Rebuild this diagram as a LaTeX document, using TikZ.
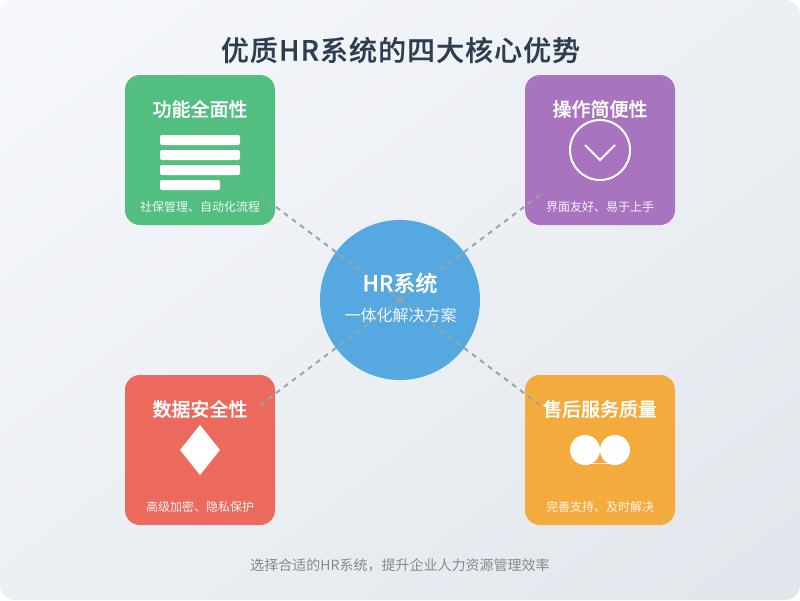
\documentclass[tikz,border=0pt]{standalone}
\usepackage{fontspec}
\setmainfont[BoldFont={Noto Sans CJK SC Medium},BoldFeatures={FakeBold=0.4}]{Noto Sans CJK SC}
\usetikzlibrary{positioning,calc}
\definecolor{inkdark}{HTML}{2C3E50}
\definecolor{footgray}{HTML}{7F8C8D}
\definecolor{linkgray}{HTML}{95A5A6}
\definecolor{cardgreen}{HTML}{52BE80}
\definecolor{cardpurple}{HTML}{A974BF}
\definecolor{cardred}{HTML}{EB6A5D}
\definecolor{cardorange}{HTML}{F3AB3D}
\definecolor{hubblue}{HTML}{55A8E0}
\definecolor{bgstart}{HTML}{F6F8FB}
\definecolor{bgend}{HTML}{E2E6EC}
\pgfdeclarehorizontalshading{bgshade}{1400pt}{color(0pt)=(bgstart); color(960pt)=(bgend)}
\tikzset{
  cardbox/.style={rectangle, rounded corners=15pt, minimum size=150pt, inner sep=0pt},
  cardtitle/.style={text=white, font=\fontsize{19}{19}\selectfont\bfseries, inner sep=0pt},
  cardnote/.style={text=white, opacity=0.9, font=\fontsize{12}{12}\selectfont, inner sep=0pt},
  bar/.style={fill=white, rounded corners=2pt},
  link/.style={draw=linkgray, line width=2pt, dash pattern=on 5pt off 5pt}
}
\begin{document}
\begin{tikzpicture}[x=1pt, y=-1pt]
  \useasboundingbox (0,0) rectangle (800,600);
  \begin{scope}
    \clip[rounded corners=15pt] (0,0) rectangle (800,600);
    \node[inner sep=0pt, rotate=-53.13] (backdrop) at (400,300) {\pgfuseshading{bgshade}};
  \end{scope}

  \node[cardbox, fill=cardgreen] (func) at (200,150) {};
  \node[cardbox, fill=cardpurple] (ease) at (600,150) {};
  \node[cardbox, fill=cardred] (safe) at (200,450) {};
  \node[cardbox, fill=cardorange] (after) at (600,450) {};
  \node[circle, fill=hubblue, minimum size=160pt, inner sep=0pt] (hub) at (400,300) {};

  \coordinate (funcend) at (260,195);
  \coordinate (easeend) at (540,195);
  \coordinate (safeend) at (260,405);
  \coordinate (afterend) at (540,405);
  \draw[link] (funcend) -- (hub.center);
  \draw[link] (easeend) -- (hub.center);
  \draw[link] (safeend) -- (hub.center);
  \draw[link] (afterend) -- (hub.center);

  \node[text=inkdark, font=\fontsize{28}{28}\selectfont\bfseries\addfontfeatures{LetterSpace=3.6}, inner sep=0pt] (title) at (400.5,50) {优质HR系统的四大核心优势};
  \node[text=white, font=\fontsize{22}{22}\selectfont\bfseries, inner sep=0pt] (hubname) at (400,283) {HR系统};
  \node[text=white, opacity=0.9, font=\fontsize{16}{16}\selectfont, inner sep=0pt] (hubnote) at (400.5,315) {一体化解决方案};

  \node[cardtitle] (functitle) at (200,109) {功能全面性};
  \node[cardtitle] (easetitle) at (600,109) {操作简便性};
  \node[cardtitle] (safetitle) at (200,409) {数据安全性};
  \node[cardtitle] (aftertitle) at (600,409) {售后服务质量};
  \node[cardnote] (funcnote) at (200,206.5) {社保管理、自动化流程};
  \node[cardnote] (easenote) at (600,206.5) {界面友好、易于上手};
  \node[cardnote] (safenote) at (200,506.5) {高级加密、隐私保护};
  \node[cardnote] (afternote) at (600,506.5) {完善支持、及时解决};

  % icons
  \fill[bar] (160,135) rectangle (240,145);
  \fill[bar] (160,150) rectangle (240,160);
  \fill[bar] (160,165) rectangle (240,175);
  \fill[bar] (160,180) rectangle (220,190);

  \draw[white, line width=2pt] (600,150) circle (30);
  \draw[white, line width=2pt] (585,145) -- (600,160) -- (615,145);

  \fill[white] (200,425) -- (220,450) -- (200,475) -- (180,450) -- cycle;

  \fill[white] (585,450) circle (15);
  \fill[white] (615,450) circle (15);
  \draw[white, line width=1pt] (590,463) -- (610,463);

  \node[text=footgray, font=\fontsize{14}{14}\selectfont, inner sep=0pt] (foot) at (400,565) {选择合适的HR系统，提升企业人力资源管理效率};
\end{tikzpicture}
\end{document}
